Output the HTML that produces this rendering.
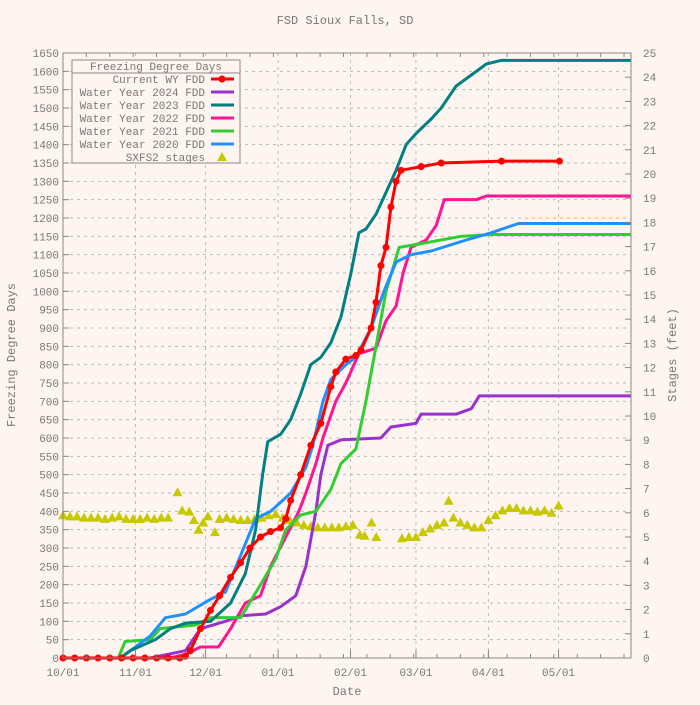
<!DOCTYPE html>
<html><head><meta charset="utf-8"><style>
body{margin:0;background:#fff5f0;}
svg{font-family:"Liberation Mono",monospace;}
</style></head><body>
<svg id="chart" width="700" height="700" xmlns="http://www.w3.org/2000/svg">
<rect width="700" height="700" fill="#fff5f0"/>
<text x="345" y="24" font-size="12" fill="#777" text-anchor="middle">FSD Sioux Falls, SD</text>
<g id="grid"></g>
<g id="series"></g>
<g id="axes"></g>
<text x="347" y="695" font-size="12" fill="#777" text-anchor="middle">Date</text>
<text transform="translate(15,355) rotate(-90)" font-size="12" fill="#777" text-anchor="middle">Freezing Degree Days</text>
<text transform="translate(676,355) rotate(-90)" font-size="12" fill="#777" text-anchor="middle">Stages (feet)</text>
<g id="legend"></g>
</svg>
<script>
const xTickLabels=["10/01","11/01","12/01","01/01","02/01","03/01","04/01","05/01"];
const xTickDays=[0,31,61,92,123,151,182,212];
const yTicks=[];for(let v=0;v<=1650;v+=50)yTicks.push(v);
const y2Ticks=[];for(let v=0;v<=25;v+=1)y2Ticks.push(v);
const current=[[0,0],[5,0],[10,0],[15,0],[20,0],[25,0],[30,0],[35,0],[40,0],[45,0],[50,0],[52.4,5],[54.5,20],[58.8,80],[63.1,130],[67,170],[71.7,220],[76,260],[80,300],[84.5,330],[88.8,345],[93.1,355],[95.3,380],[97.4,430],[101.7,500],[106,580],[110.3,640],[114.6,740],[116.7,780],[121,815],[125.3,825],[127.5,840],[131.8,900],[133.9,970],[136,1070],[138.2,1120],[140.3,1230],[142.5,1300],[144.6,1330],[153.2,1340],[161.8,1350],[187.6,1355],[212.4,1355]];
const wy2024=[[0,0],[37.3,0],[52.4,20],[58.8,80],[69.5,100],[76,115],[86.7,120],[93.1,140],[99.6,170],[103.9,250],[108.2,400],[110.3,500],[113.3,580],[118.9,595],[136,600],[140.3,630],[151,640],[153.2,665],[168.2,665],[174.7,680],[178.1,715],[243,715]];
const wy2023=[[0,0],[24.5,0],[28.8,20],[39.5,50],[45.9,80],[52.4,95],[63.1,100],[71.7,150],[78,230],[82.4,350],[85.4,500],[87.6,590],[93.1,610],[97.4,650],[101.7,720],[106,800],[110.3,820],[114.6,860],[118.9,930],[123.2,1050],[126.6,1160],[129.6,1170],[133.9,1210],[138.2,1270],[142.5,1330],[146.8,1400],[151,1430],[157.5,1470],[161.8,1500],[168.2,1560],[174.7,1590],[181.1,1620],[187.6,1630],[243,1630]];
const wy2022=[[0,0],[45.9,0],[52.4,10],[58.8,30],[66.5,30],[71.7,80],[78,150],[84.5,170],[88.8,250],[95.3,330],[100.9,400],[103.9,450],[108.2,530],[111.2,600],[116.7,700],[121,750],[126.6,830],[133.9,845],[138.2,920],[142.5,960],[145.5,1050],[148.9,1120],[155.4,1140],[159.7,1180],[163.1,1250],[176.8,1250],[181.1,1260],[243,1260]];
const wy2021=[[0,0],[23.6,0],[26.6,45],[37.3,50],[41.6,80],[56.7,90],[63.1,110],[76,110],[84.5,200],[91,270],[95.3,350],[101.7,390],[108.2,400],[114.6,460],[118.9,530],[125.3,570],[129.6,700],[133.9,850],[138.2,1000],[143.8,1120],[153.2,1130],[170.4,1150],[183.3,1155],[243,1155]];
const wy2020=[[0,0],[24.5,0],[28.8,20],[37.3,60],[43.8,110],[52.4,120],[63.1,160],[69.5,180],[76,280],[82.4,380],[88.8,400],[94,430],[97.4,450],[103.9,520],[106.9,580],[111.2,700],[114.6,760],[121,800],[125.3,820],[131.8,900],[137.3,1000],[142.5,1080],[148.9,1100],[157.5,1110],[172.5,1140],[183.3,1160],[194.8,1185],[243,1185]];
const stages=[[0,5.9],[3,5.85],[6,5.85],[9,5.8],[12,5.8],[15,5.8],[18,5.75],[21,5.8],[24,5.85],[27,5.75],[30,5.75],[33,5.75],[36,5.8],[39,5.75],[42,5.8],[45,5.8],[49,6.85],[51,6.1],[54,6.05],[56,5.7],[58,5.3],[60,5.6],[62,5.85],[65,5.2],[67,5.75],[70,5.8],[73,5.75],[76,5.7],[79,5.7],[82,5.75],[85,5.8],[88,5.9],[91,5.95],[94,5.8],[97,5.7],[100,5.6],[103,5.5],[106,5.45],[109,5.4],[112,5.4],[115,5.4],[118,5.4],[121,5.45],[124,5.5],[127,5.1],[129,5.05],[132,5.6],[134,5.0],[145,4.95],[148,5.0],[151,5.0],[154,5.2],[157,5.35],[160,5.5],[163,5.6],[165,6.5],[167,5.8],[170,5.6],[173,5.5],[176,5.4],[179,5.4],[182,5.7],[185,5.9],[188,6.1],[191,6.2],[194,6.2],[197,6.1],[200,6.1],[203,6.05],[206,6.1],[209,6.0],[212,6.3]];
const X0=63,X1=631,Y0=658,Y1=53,DMAX=243,VMAX=1650,SMAX=25;
const xs=d=>X0+d/DMAX*(X1-X0);
const ys=v=>Y0-v/VMAX*(Y0-Y1);
const ys2=v=>Y0-v/SMAX*(Y0-Y1);
const NS="http://www.w3.org/2000/svg";
function mk(tag,parent,attrs){const e=document.createElementNS(NS,tag);for(const k in attrs)e.setAttribute(k,attrs[k]);parent.appendChild(e);return e;}
const grid=document.getElementById('grid'),axes=document.getElementById('axes'),ser=document.getElementById('series'),leg=document.getElementById('legend');
yTicks.forEach(v=>{const y=ys(v);
 const g=mk('line',grid,{x1:X0,x2:X1,y1:y,y2:y,stroke:'#bbb','stroke-dasharray':'3,4','stroke-width':1});
 
 mk('line',axes,{x1:X0,x2:X0+6,y1:y,y2:y,stroke:'#888'});
 const t=mk('text',axes,{x:X0-4,y:y+4,'font-size':11,fill:'#777','text-anchor':'end'});t.textContent=v;
 });
y2Ticks.forEach(v=>{const y=ys2(v);
 mk('line',axes,{x1:X1-6,x2:X1,y1:y,y2:y,stroke:'#888'});
 const t=mk('text',axes,{x:X1+12,y:y+4,'font-size':11,fill:'#777'});t.textContent=v;
 });
for(let d=0;d<=DMAX;d+=10){const x=xs(d);mk('line',axes,{x1:x,x2:x,y1:Y0,y2:Y0-4,stroke:'#888'});mk('line',axes,{x1:x,x2:x,y1:Y1,y2:Y1+4,stroke:'#888'});}
xTickDays.forEach((d,i)=>{const x=xs(d);
 const g=mk('line',grid,{x1:x,x2:x,y1:Y1,y2:Y0,stroke:'#bbb','stroke-dasharray':'3,4'});
 
 mk('line',axes,{x1:x,x2:x,y1:Y0,y2:Y0-8,stroke:'#888'});
 const t=mk('text',axes,{x:x,y:Y0+18,'font-size':11,fill:'#777','text-anchor':'middle'});t.textContent=xTickLabels[i];
 });
const fr=mk('rect',axes,{x:X0,y:Y1,width:X1-X0,height:Y0-Y1,fill:'none',stroke:'#888'});

// stages
stages.forEach(p=>{const x=xs(p[0]),y=ys2(p[1]);
 const tr=mk('polygon',ser,{points:`${x},${y-5} ${x-5},${y+4} ${x+5},${y+4}`,fill:'#c8c800'});
 });
function line(data,color,name){const p=mk('polyline',ser,{points:data.map(d=>xs(d[0])+','+ys(d[1])).join(' '),fill:'none',stroke:color,'stroke-width':3,'stroke-linejoin':'round'});
 }
line(wy2024,'#9932cc','wy2024-line');line(wy2022,'#ff1493','wy2022-line');line(wy2021,'#32cd32','wy2021-line');line(wy2020,'#1e90ff','wy2020-line');line(wy2023,'#008080','wy2023-line');line(current,'#ff0000','current-wy-line');
current.forEach(p=>{const c=mk('circle',ser,{cx:xs(p[0]),cy:ys(p[1]),r:3.5,fill:'#ff0000'});
 });
// legend
const lb=mk('rect',leg,{x:72,y:60,width:168,height:103,fill:'#fff5f0',stroke:'#888'});

mk('line',leg,{x1:72,x2:240,y1:73,y2:73,stroke:'#888'});
const lt=mk('text',leg,{x:156,y:70,'font-size':11,fill:'#777','text-anchor':'middle'});lt.textContent='Freezing Degree Days';

const legNames=['Current WY FDD','Water Year 2024 FDD','Water Year 2023 FDD','Water Year 2022 FDD','Water Year 2021 FDD','Water Year 2020 FDD','SXFS2 stages'];
const legColors=['#ff0000','#9932cc','#008080','#ff1493','#32cd32','#1e90ff','#c8c800'];
legNames.forEach((n,i)=>{const y=79+i*13;
 const t=mk('text',leg,{x:205,y:y+4,'font-size':11,fill:'#777','text-anchor':'end'});t.textContent=n;
 
 if(i<6){mk('line',leg,{x1:211,x2:234,y1:y,y2:y,stroke:legColors[i],'stroke-width':3});if(i==0)mk('circle',leg,{cx:222,cy:y,r:3.5,fill:'#ff0000'});}
 else mk('polygon',leg,{points:`222,${y-5} 217,${y+4} 227,${y+4}`,fill:legColors[i]});});
</script>
</body></html>
